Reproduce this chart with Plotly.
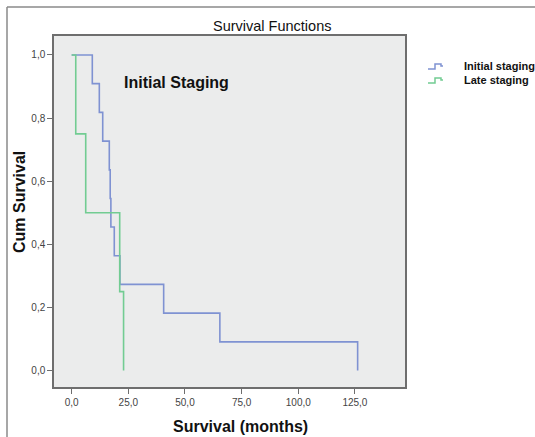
import plotly.graph_objects as go

# Kaplan-Meier step data
initial_time = [0, 9.1, 12.2, 13.7, 16.6, 17.0, 17.3, 18.8, 21.3, 40.6, 65.4, 126.2]
initial_surv = [1.0, 0.909, 0.818, 0.727, 0.636, 0.545, 0.455, 0.364, 0.273, 0.182, 0.091, 0.0]
late_time = [0, 1.8, 6.2, 21.2, 22.9]
late_surv = [1.0, 0.75, 0.5, 0.25, 0.0]

series_names = ["Initial staging", "Late staging"]
series_colors = ["#7f92d2", "#72cc92"]

x_ticks = [0, 25, 50, 75, 100, 125]
x_labels = ["0,0", "25,0", "50,0", "75,0", "100,0", "125,0"]
y_ticks = [0.0, 0.2, 0.4, 0.6, 0.8, 1.0]
y_labels = ["0,0", "0,2", "0,4", "0,6", "0,8", "1,0"]

W, H = 535, 437
L, R, T, B = 54, 130, 36, 50
FONT = "Liberation Sans, Arial"

fig = go.Figure()
fig.add_trace(go.Scatter(x=initial_time, y=initial_surv, mode="lines", line_shape="hv",
                         line=dict(color=series_colors[0], width=1.6), name=series_names[0]))
fig.add_trace(go.Scatter(x=late_time, y=late_surv, mode="lines", line_shape="hv",
                         line=dict(color=series_colors[1], width=1.6), name=series_names[1]))

axis_common = dict(showgrid=False, zeroline=False, showline=True, mirror=True,
                   linecolor="#6e6e6e", linewidth=1.5, ticks="outside", ticklen=5,
                   tickcolor="#6e6e6e", tickfont=dict(family=FONT, size=10, color="#444444"))

fig.update_xaxes(range=[-7.8, 147.1], tickvals=x_ticks, ticktext=x_labels, **axis_common)
fig.update_yaxes(range=[-0.052, 1.06], tickvals=y_ticks, ticktext=y_labels, **axis_common)

def px_x(p):
    return (p - L) / (W - L - R)

def px_y(p):
    return (H - B - p) / (H - T - B)

annotations = [
    dict(text="Survival Functions", x=px_x(272), y=px_y(26), xref="paper", yref="paper",
         showarrow=False, font=dict(size=14.5, color="#111111"), xanchor="center", yanchor="middle"),
    dict(text="<b>Initial Staging</b>", x=px_x(122), y=px_y(82), xref="paper", yref="paper",
         showarrow=False, font=dict(size=16, color="#111111"), xanchor="left", yanchor="middle"),
    dict(text="<b>Survival (months)</b>", x=px_x(240), y=px_y(427), xref="paper", yref="paper",
         showarrow=False, font=dict(size=16, color="#111111"), xanchor="center", yanchor="middle"),
    dict(text="<b>Cum Survival</b>", x=px_x(20), y=px_y(202), xref="paper", yref="paper",
         showarrow=False, textangle=-90, font=dict(size=16, color="#111111"),
         xanchor="center", yanchor="middle"),
]

shapes = [
    dict(type="line", xref="paper", yref="paper", x0=px_x(7), x1=px_x(7), y0=px_y(7), y1=px_y(437),
         line=dict(color="#8a8a8a", width=1.5)),
    dict(type="line", xref="paper", yref="paper", x0=px_x(7), x1=px_x(535), y0=px_y(7), y1=px_y(7),
         line=dict(color="#8a8a8a", width=1.5)),
]

# hand-drawn legend with small step glyphs, like SPSS
for i, (name, col) in enumerate(zip(series_names, series_colors)):
    yc = 66 + 14 * i
    annotations.append(dict(text="<b>%s</b>" % name, x=px_x(462), y=px_y(yc), xref="paper", yref="paper",
                            showarrow=False, font=dict(size=11, color="#111111"),
                            xanchor="left", yanchor="middle"))
    path = "M%f,%f L%f,%f L%f,%f L%f,%f L%f,%f L%f,%f" % (
        px_x(428), px_y(yc + 3), px_x(435), px_y(yc + 3), px_x(435), px_y(yc - 2),
        px_x(441), px_y(yc - 2), px_x(441), px_y(yc), px_x(443), px_y(yc))
    shapes.append(dict(type="path", xref="paper", yref="paper", path=path,
                       line=dict(color=col, width=1.5)))

fig.update_layout(
    width=W, height=H,
    margin=dict(l=L, r=R, t=T, b=B),
    paper_bgcolor="white", plot_bgcolor="#ebecec",
    font=dict(family=FONT, color="#111111"),
    showlegend=False,
    annotations=annotations,
    shapes=shapes,
)

fig.write_html("out.html", config={"displayModeBar": False},
               post_script="document.body.style.margin='0';document.body.style.overflow='hidden';")
